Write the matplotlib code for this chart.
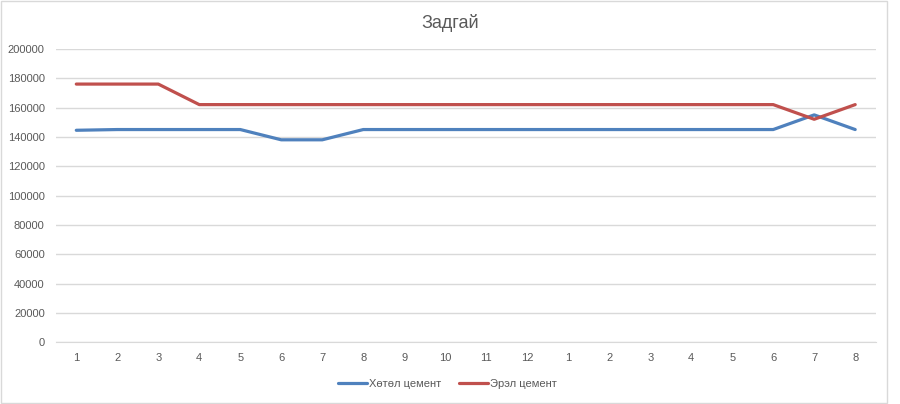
import matplotlib.pyplot as plt
import numpy as np

# category labels along x (two runs: 1-12 then 1-8)
categories = [str(i) for i in range(1, 13)] + [str(i) for i in range(1, 9)]

hotol = [144500, 145000, 145000, 145000, 145000, 138000, 138000, 145000,
         145000, 145000, 145000, 145000, 145000, 145000, 145000, 145000,
         145000, 145000, 155000, 145000]
erel = [176000, 176000, 176000, 162000, 162000, 162000, 162000, 162000,
        162000, 162000, 162000, 162000, 162000, 162000, 162000, 162000,
        162000, 162000, 152000, 162000]

series_names = ["Хөтөл цемент", "Эрэл цемент"]
y_ticks = list(range(0, 200001, 20000))

plt.rcParams["font.family"] = ["Liberation Sans", "DejaVu Sans"]
text_color = "#595959"
grid_color = "#d9d9d9"

fig = plt.figure(figsize=(9, 4.04), dpi=100)
ax = fig.add_axes([0.062, 0.153, 0.911, 0.726])

x = np.arange(len(categories))
ax.plot(x, hotol, color="#4F81BD", linewidth=2.3, label=series_names[0], solid_capstyle="round")
ax.plot(x, erel, color="#C0504D", linewidth=2.3, label=series_names[1], solid_capstyle="round")

ax.set_xlim(-0.5, len(categories) - 0.5)
ax.set_ylim(0, 200000)
ax.set_yticks(y_ticks)
ax.set_yticklabels([str(v) for v in y_ticks])
ax.set_xticks(x)
ax.set_xticklabels(categories)
ax.grid(axis="y", color=grid_color, linewidth=1)
ax.set_axisbelow(True)
for side in ["top", "right", "left"]:
    ax.spines[side].set_visible(False)
ax.spines["bottom"].set_color(grid_color)
ax.tick_params(axis="both", length=0, labelsize=8, colors=text_color)
ax.tick_params(axis="y", pad=8)
ax.tick_params(axis="x", pad=8)

fig.suptitle("Задгай", y=0.965, fontsize=13, color=text_color)
fig.legend(loc="lower center", bbox_to_anchor=(0.497, 0.012), ncol=2, frameon=False,
           fontsize=8, labelcolor=text_color, handlelength=2.6, columnspacing=1.6,
           handletextpad=0.2)

# light border around the chart area
fig.patches.append(plt.Rectangle((0.001, 0.002), 0.984, 0.996, transform=fig.transFigure,
                                 fill=False, edgecolor="#d9d9d9", linewidth=1))

fig.savefig("out.png", dpi=100)
